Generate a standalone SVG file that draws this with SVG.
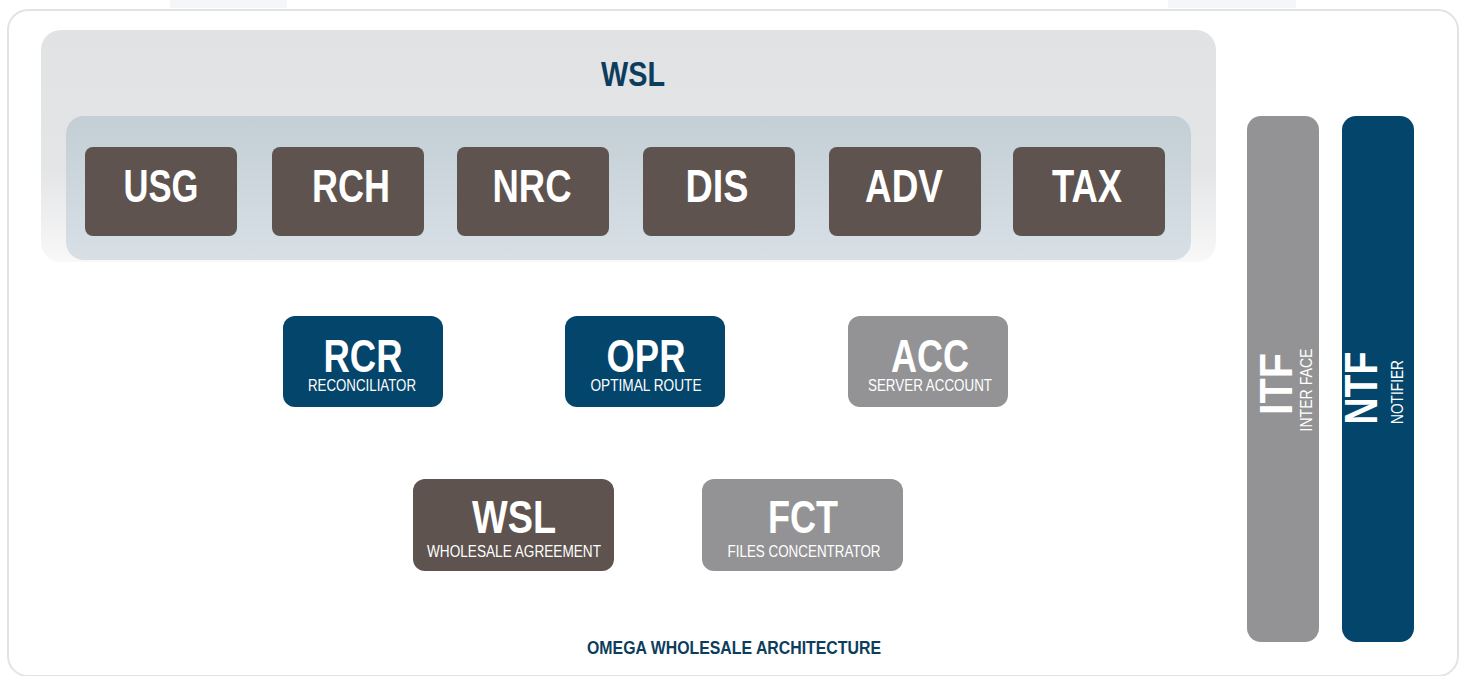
<svg xmlns="http://www.w3.org/2000/svg" width="1467" height="676" viewBox="0 0 1467 676">
<defs>
<linearGradient id="outerG" x1="0" y1="0" x2="0" y2="1">
<stop offset="0" stop-color="#e1e2e4"/>
<stop offset="0.6" stop-color="#e4e5e7"/>
<stop offset="1" stop-color="#f8f8f8"/>
</linearGradient>
<linearGradient id="innerG" x1="0" y1="0" x2="0" y2="1">
<stop offset="0" stop-color="#c3ced5"/>
<stop offset="1" stop-color="#d8e0e6"/>
</linearGradient>
<style>
text{font-family:"Liberation Sans",Arial,sans-serif;text-anchor:middle}
.big{font-weight:bold;fill:#fff}
.sub{fill:#fff}
.brown{fill:#5e534e}
.navy{fill:#03456b}
.grey{fill:#939396}
.title{font-weight:bold;fill:#0d3d5c}
</style>
</defs>
<rect x="170" y="0" width="117" height="8" fill="#f4f6f9"/>
<rect x="1168" y="0" width="128" height="8" fill="#f4f6f9"/>
<rect id="frame" x="8" y="10" width="1450" height="666" rx="20" fill="#fff" stroke="#e3e3e3" stroke-width="2"/>
<g id="wsl-panel">
<rect x="41" y="30" width="1175" height="232" rx="20" fill="url(#outerG)"/>
<text class="title" x="633" y="86" font-size="35" textLength="64" lengthAdjust="spacingAndGlyphs">WSL</text>
<rect x="66" y="116" width="1125" height="144" rx="18" fill="url(#innerG)"/>
</g>
<g id="usg"><rect class="brown" x="85" y="147" width="152" height="89" rx="8"/><text class="big" x="161" y="202" font-size="46" textLength="75" lengthAdjust="spacingAndGlyphs">USG</text></g>
<g id="rch"><rect class="brown" x="272" y="147" width="152" height="89" rx="8"/><text class="big" x="351" y="202" font-size="46" textLength="78" lengthAdjust="spacingAndGlyphs">RCH</text></g>
<g id="nrc"><rect class="brown" x="457" y="147" width="152" height="89" rx="8"/><text class="big" x="532" y="202" font-size="46" textLength="79" lengthAdjust="spacingAndGlyphs">NRC</text></g>
<g id="dis"><rect class="brown" x="643" y="147" width="152" height="89" rx="8"/><text class="big" x="717" y="202" font-size="46" textLength="63" lengthAdjust="spacingAndGlyphs">DIS</text></g>
<g id="adv"><rect class="brown" x="829" y="147" width="152" height="89" rx="8"/><text class="big" x="904" y="202" font-size="46" textLength="78" lengthAdjust="spacingAndGlyphs">ADV</text></g>
<g id="tax"><rect class="brown" x="1013" y="147" width="152" height="89" rx="8"/><text class="big" x="1087" y="202" font-size="46" textLength="70" lengthAdjust="spacingAndGlyphs">TAX</text></g>
<g id="rcr"><rect class="navy" x="283" y="316" width="160" height="91" rx="12"/><text class="big" x="363" y="372" font-size="46" textLength="79" lengthAdjust="spacingAndGlyphs">RCR</text><text class="sub" x="362" y="391" font-size="17" textLength="108" lengthAdjust="spacingAndGlyphs">RECONCILIATOR</text></g>
<g id="opr"><rect class="navy" x="565" y="316" width="160" height="91" rx="12"/><text class="big" x="646" y="372" font-size="46" textLength="79" lengthAdjust="spacingAndGlyphs">OPR</text><text class="sub" x="646" y="391" font-size="17" textLength="111" lengthAdjust="spacingAndGlyphs">OPTIMAL ROUTE</text></g>
<g id="acc"><rect class="grey" x="848" y="316" width="160" height="91" rx="12"/><text class="big" x="930" y="372" font-size="46" textLength="78" lengthAdjust="spacingAndGlyphs">ACC</text><text class="sub" x="930" y="391" font-size="17" textLength="124" lengthAdjust="spacingAndGlyphs">SERVER ACCOUNT</text></g>
<g id="wsl"><rect class="brown" x="413" y="479" width="201" height="92" rx="12"/><text class="big" x="514" y="533" font-size="46" textLength="84" lengthAdjust="spacingAndGlyphs">WSL</text><text class="sub" x="514" y="557" font-size="17" textLength="174" lengthAdjust="spacingAndGlyphs">WHOLESALE AGREEMENT</text></g>
<g id="fct"><rect class="grey" x="702" y="479" width="201" height="92" rx="12"/><text class="big" x="803" y="533" font-size="46" textLength="70" lengthAdjust="spacingAndGlyphs">FCT</text><text class="sub" x="804" y="557" font-size="17" textLength="153" lengthAdjust="spacingAndGlyphs">FILES CONCENTRATOR</text></g>
<g id="itf"><rect class="grey" x="1247" y="116" width="72" height="526" rx="14"/>
<text class="big" font-size="46" transform="translate(1292,384) rotate(-90)" textLength="62" lengthAdjust="spacingAndGlyphs">ITF</text>
<text class="sub" font-size="17" transform="translate(1312,390) rotate(-90)" textLength="83" lengthAdjust="spacingAndGlyphs">INTER FACE</text></g>
<g id="ntf"><rect class="navy" x="1342" y="116" width="72" height="526" rx="14"/>
<text class="big" font-size="46" transform="translate(1377,388) rotate(-90)" textLength="73" lengthAdjust="spacingAndGlyphs">NTF</text>
<text class="sub" font-size="17" transform="translate(1403,392) rotate(-90)" textLength="64" lengthAdjust="spacingAndGlyphs">NOTIFIER</text></g>
<text class="title" x="734" y="654" font-size="18.5" textLength="294" lengthAdjust="spacingAndGlyphs">OMEGA WHOLESALE ARCHITECTURE</text>
<g id="connectors"/>
</svg>
